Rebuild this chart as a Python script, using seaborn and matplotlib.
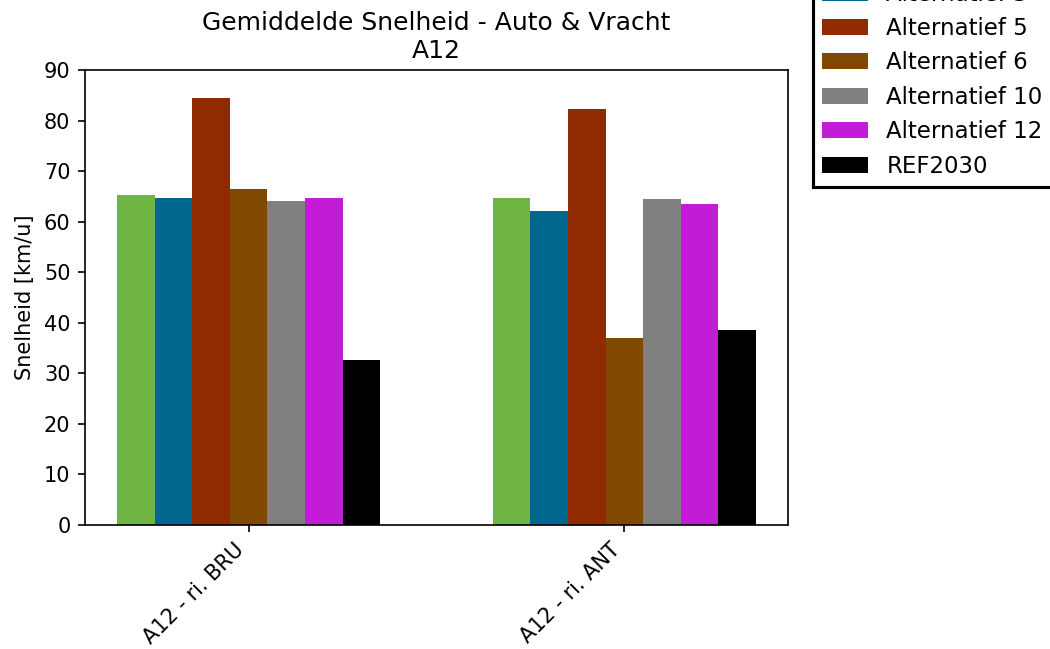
import matplotlib
matplotlib.use("Agg")
import matplotlib.pyplot as plt
import seaborn as sns
import pandas as pd

locations = ["A12 - ri. BRU", "A12 - ri. ANT"]
alternatives = ["Alternatief 1", "Alternatief 3", "Alternatief 5", "Alternatief 6",
                "Alternatief 10", "Alternatief 12", "REF2030"]
speed_bru = [65.3, 64.6, 84.4, 66.5, 64.1, 64.6, 32.6]
speed_ant = [64.7, 62.2, 82.3, 37.0, 64.5, 63.4, 38.6]
colors = ["#70B443", "#00688F", "#902A00", "#7F4A00", "#808080", "#C31CD6", "#000000"]

rows = []
for alt, b, a in zip(alternatives, speed_bru, speed_ant):
    rows.append({"loc": locations[0], "alt": alt, "speed": b})
    rows.append({"loc": locations[1], "alt": alt, "speed": a})
df = pd.DataFrame(rows)

fig = plt.figure(figsize=(7, 649 / 150), dpi=150)
ax = fig.add_axes([85 / 1050, 1 - 525 / 649, (788 - 85) / 1050, (525 - 70) / 649])
sns.barplot(data=df, x="loc", y="speed", hue="alt", hue_order=alternatives,
            order=locations, palette=colors, width=0.7, saturation=1,
            linewidth=0, ax=ax, errorbar=None)
ax.set_xlim(-0.435, 1.435)
ax.set_ylim(0, 90)
ax.set_yticks(range(0, 91, 10))
ax.set_xlabel("")
ax.set_ylabel("Snelheid [km/u]")
ax.set_title("Gemiddelde Snelheid - Auto & Vracht\nA12")
plt.setp(ax.get_xticklabels(), rotation=45, ha="right")
for s in ax.spines.values():
    s.set_visible(True)
    s.set_color("black")

leg = ax.legend(loc="lower left", bbox_to_anchor=(813 / 1050, 1 - 187 / 649),
                bbox_transform=fig.transFigure, fancybox=False, framealpha=1,
                edgecolor="black", borderaxespad=0, fontsize=11)
leg.get_frame().set_linewidth(1.5)

fig.savefig("out.png", dpi=150)
